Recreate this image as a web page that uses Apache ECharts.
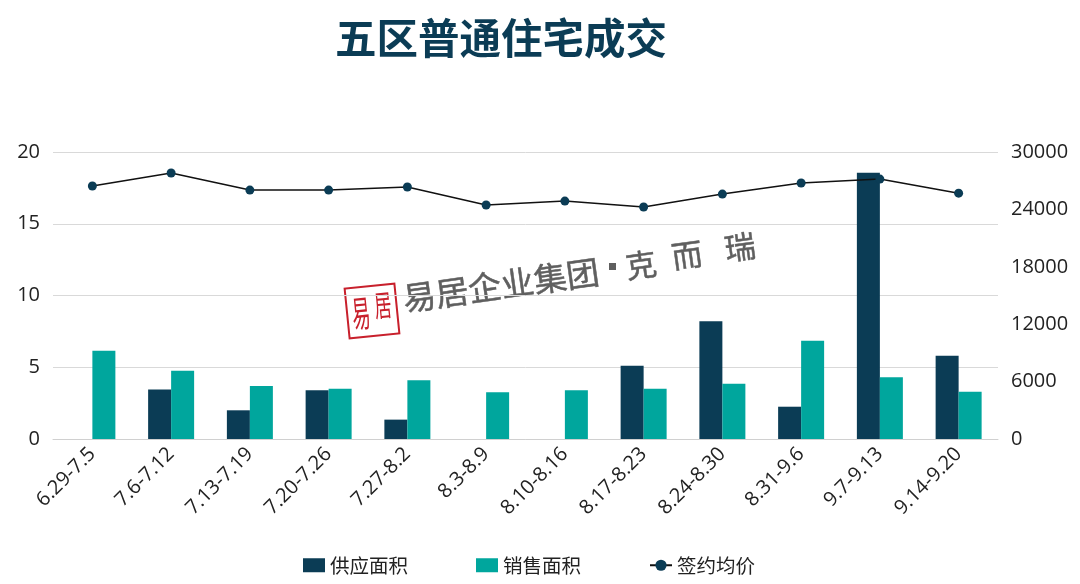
<!DOCTYPE html>
<html><head><meta charset="utf-8">
<style>html,body{margin:0;padding:0;background:#fff}#c{width:1080px;height:584px}</style>
<script src="https://cdn.jsdelivr.net/npm/echarts@6/dist/echarts.min.js"></script></head>
<body><div id="c"></div>
<script>
const categories=['6.29-7.5','7.6-7.12','7.13-7.19','7.20-7.26','7.27-8.2','8.3-8.9','8.10-8.16','8.17-8.23','8.24-8.30','8.31-9.6','9.7-9.13','9.14-9.20'];
const supply=[null,3.45,2.0,3.4,1.35,null,null,5.1,8.2,2.25,18.55,5.8];
const sales=[6.15,4.75,3.7,3.5,4.1,3.25,3.4,3.5,3.85,6.85,4.3,3.3];
const price=[26450,27800,26020,26020,26340,24460,24870,24250,25600,26760,27170,25700];
const font='"Open Sans","Noto Sans CJK SC",sans-serif';
const cjk='"Noto Sans CJK SC",sans-serif';
const chart=echarts.init(document.getElementById('c'),null,{renderer:'canvas'});
const wm=(x,y,text,size)=>({type:'text',x,y,rotation:0.14,silent:true,style:{text,fill:'#5f5f5f',fontSize:size,fontFamily:cjk,align:'center',verticalAlign:'middle',stroke:'#5f5f5f',lineWidth:0.5}});
chart.setOption({
animation:false,
title:{text:'五区普通住宅成交',left:330,top:12,textStyle:{fontFamily:cjk,fontSize:41.5,fontWeight:'bold',color:'#0b3c55'}},
legend:{bottom:4,left:298,itemGap:68,itemWidth:22,itemHeight:14,textStyle:{fontFamily:cjk,fontSize:19.5,color:'#222'},
data:[{name:'供应面积',icon:'rect'},{name:'销售面积',icon:'rect'},{name:'签约均价'}]},
grid:{left:53,right:82,top:152,bottom:145},
xAxis:{type:'category',data:categories,axisTick:{show:false},axisLine:{lineStyle:{color:'#d0d0d0'}},axisLabel:{rotate:45,interval:0,fontFamily:font,fontSize:20,color:'#222',margin:12}},
yAxis:[{type:'value',min:0,max:20,interval:5,axisLine:{show:false},axisTick:{show:false},splitLine:{lineStyle:{color:'#d9d9d9'}},axisLabel:{fontFamily:font,fontSize:20,color:'#222',margin:13,padding:[2,0,0,0]}},
{type:'value',min:0,max:30000,interval:6000,axisLine:{show:false},axisTick:{show:false},splitLine:{show:false},axisLabel:{fontFamily:font,fontSize:20,color:'#222',margin:13,padding:[2,0,0,0],formatter:v=>String(v)}}],
series:[
{name:'供应面积',type:'bar',data:supply,barWidth:23,barGap:'0%',itemStyle:{color:'#0b3c55'}},
{name:'销售面积',type:'bar',data:sales,barWidth:23,itemStyle:{color:'#00a69d'}},
{name:'签约均价',type:'line',yAxisIndex:1,data:price,symbol:'circle',symbolSize:9,lineStyle:{color:'#111',width:1.5},itemStyle:{color:'#0b3c55'}}
],
graphic:[
{type:'rect',x:372,y:311,shape:{x:-25,y:-25,width:50,height:50},rotation:0.1,style:{fill:'#fff',stroke:'#c8202c',lineWidth:2},silent:true},
{type:'text',x:361,y:313,rotation:0.1,scaleX:0.66,scaleY:1.3,silent:true,style:{text:'易',fill:'#c8202c',fontSize:28,fontFamily:cjk,align:'center',verticalAlign:'middle'}},
{type:'text',x:383,y:305,rotation:0.1,scaleX:0.66,scaleY:1.15,silent:true,style:{text:'居',fill:'#c8202c',fontSize:26,fontFamily:cjk,align:'center',verticalAlign:'middle'}},
wm(501,285,'易居企业集团',33),
{type:'rect',x:609,y:263,shape:{width:7,height:7},style:{fill:'#5f5f5f'},silent:true},
wm(641,265,'克',31),wm(687,255,'而',31),wm(740,247,'瑞',31)
]
});
</script></body></html>
